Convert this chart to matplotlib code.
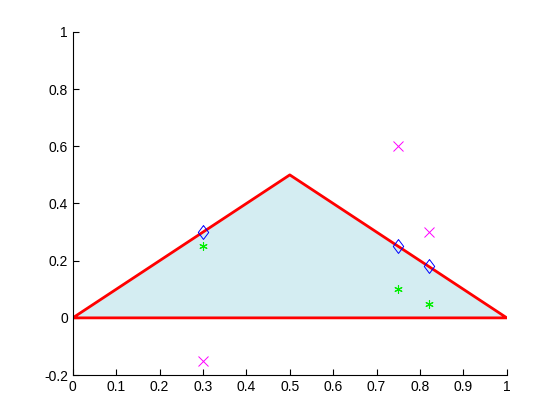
import numpy as np
import matplotlib
matplotlib.use("Agg")
import matplotlib.pyplot as plt

# triangle vertices
tri_x = [0, 0.5, 1, 0]
tri_y = [0, 0.5, 0, 0]

# outside points (magenta x)
out_x = [0.75, 0.82, 0.3]
out_y = [0.6, 0.3, -0.15]

# projected points on the boundary (blue diamonds)
proj_x = [0.3, 0.75, 0.82]
proj_y = [0.3, 0.25, 0.18]

# inside points (green stars)
in_x = [0.3, 0.75, 0.82]
in_y = [0.25, 0.1, 0.05]

plt.rcParams['font.family'] = ['Liberation Sans', 'DejaVu Sans']
fig = plt.figure(figsize=(5.6, 4.2), dpi=100)
ax = fig.add_axes([0.130, 0.107, 0.775, 0.817])

diamond = [(0, 1), (0.75, 0), (0, -1), (-0.75, 0), (0, 1)]

ax.fill(tri_x, tri_y, color='#d4edf2', zorder=1)
ax.plot(tri_x, tri_y, color='red', lw=2, zorder=2)
ax.plot(out_x, out_y, 'x', color='magenta', ms=7, mew=0.7, zorder=3)
ax.plot(proj_x, proj_y, marker=diamond, ls='none', mfc='none', mec='blue', ms=10, mew=0.7, zorder=3)
ax.plot(in_x, in_y, marker=(6, 2, 0), ls='none', color='#00ee00', ms=6, mew=0.8, zorder=3)

ax.set_xlim(0, 1)
ax.set_ylim(-0.2, 1)
ax.set_xticks(np.arange(0, 1.01, 0.1))
ax.set_xticklabels(['0', '0.1', '0.2', '0.3', '0.4', '0.5', '0.6', '0.7', '0.8', '0.9', '1'])
ax.set_yticks(np.arange(-0.2, 1.01, 0.2))
ax.set_yticklabels(['-0.2', '0', '0.2', '0.4', '0.6', '0.8', '1'])
ax.spines['top'].set_visible(False)
ax.spines['right'].set_visible(False)
ax.tick_params(direction='in', length=4, labelsize=10, width=0.8)

fig.savefig('out.png', dpi=100)
